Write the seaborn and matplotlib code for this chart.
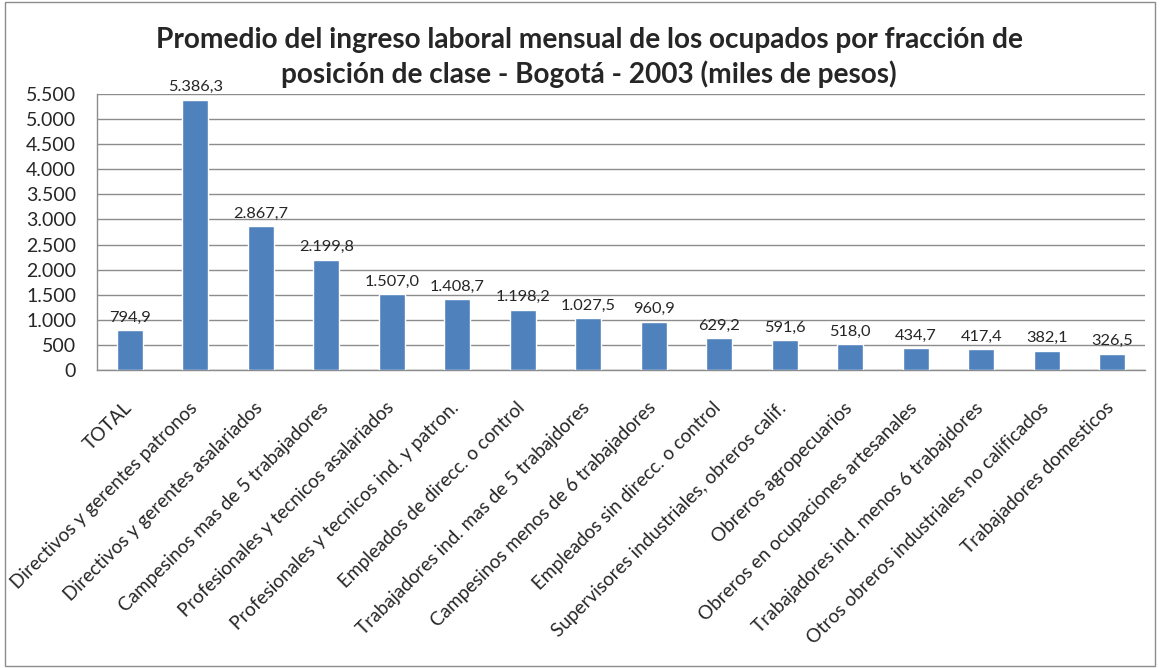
import pandas as pd
import seaborn as sns
import matplotlib.pyplot as plt
import matplotlib.transforms as mtransforms
from matplotlib.patches import Rectangle
from matplotlib.ticker import FuncFormatter

# --- Data ---
categorias = [
    'TOTAL',
    'Directivos y gerentes patronos',
    'Directivos y gerentes asalariados',
    'Campesinos mas de 5 trabajadores',
    'Profesionales y tecnicos asalariados',
    'Profesionales y tecnicos ind. y patron.',
    'Empleados de direcc. o control',
    'Trabajadores ind. mas de 5 trabajdores',
    'Campesinos menos de 6 trabajadores',
    'Empleados sin direcc. o control',
    'Supervisores industriales, obreros calif.',
    'Obreros agropecuarios',
    'Obreros en ocupaciones artesanales',
    'Trabajadores ind. menos 6 trabajdores',
    'Otros obreros industriales no calificados',
    'Trabajadores domesticos',
]
ingreso = [794.9, 5386.3, 2867.7, 2199.8, 1507.0, 1408.7, 1198.2, 1027.5,
           960.9, 629.2, 591.6, 518.0, 434.7, 417.4, 382.1, 326.5]
y_ticks = list(range(0, 5501, 500))
titulo = ['Promedio del ingreso laboral mensual de los ocupados por fracción de',
          'posición de clase - Bogotá - 2003 (miles de pesos)']

df = pd.DataFrame({'categoria': categorias, 'ingreso': ingreso})


def miles(v, decimales=0):
    s = f'{v:,.{decimales}f}'
    return s.replace(',', 'X').replace('.', ',').replace('X', '.')


sns.set_theme(style='white')
plt.rcParams['font.family'] = ['Lato', 'DejaVu Sans']

fig = plt.figure(figsize=(11.62, 6.68), dpi=100)
ax = fig.add_axes([97 / 1162, 1 - 370 / 668, 1048 / 1162, 276 / 668])

sns.barplot(data=df, x='categoria', y='ingreso', color='#4F81BD',
            width=0.4, saturation=1, ax=ax, zorder=3)

ax.set_ylim(0, 5500)
ax.set_xlim(-0.5, len(categorias) - 0.5)
ax.set_yticks(y_ticks)
ax.yaxis.set_major_formatter(FuncFormatter(lambda v, p: miles(v)))
ax.grid(axis='y', color='#8C8C8C', linewidth=1, zorder=0)
ax.set_xlabel('')
ax.set_ylabel('')

for sp in ['top', 'right']:
    ax.spines[sp].set_visible(False)
for sp in ['left', 'bottom']:
    ax.spines[sp].set_color('#8C8C8C')
    ax.spines[sp].set_linewidth(1)

ax.tick_params(axis='y', labelsize=14, length=0, pad=15)
ax.tick_params(axis='x', labelsize=13.6, length=0, pad=21)
ax.set_xticks(range(len(categorias)))
ax.set_xticklabels(categorias, rotation=45, ha='right', rotation_mode='anchor')
shift = mtransforms.ScaledTranslation(-5 / 72, 0, fig.dpi_scale_trans)
for lbl in ax.get_xticklabels():
    lbl.set_transform(lbl.get_transform() + shift)

# data labels
for i, v in enumerate(ingreso):
    ax.text(i, v + 110, miles(v, 1), ha='center', va='bottom', fontsize=11.8)

# title, one text per line
fig.text(0.507, 1 - 48 / 668, titulo[0], ha='center', va='baseline',
         fontsize=20.2, fontweight='bold')
fig.text(0.507, 1 - 83 / 668, titulo[1], ha='center', va='baseline',
         fontsize=20.2, fontweight='bold')

# chart border
fig.patches.append(Rectangle((5 / 1162, 2 / 668), 1150 / 1162, 664 / 668,
                             transform=fig.transFigure, fill=False,
                             edgecolor='#8C8C8C', linewidth=1))

plt.savefig('out.png', dpi=100)
